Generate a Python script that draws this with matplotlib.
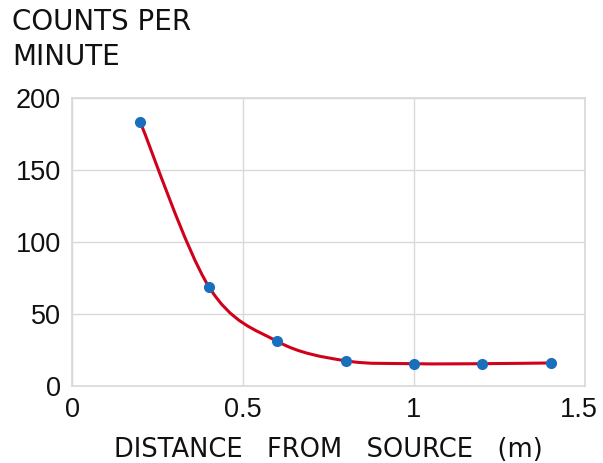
import numpy as np
import matplotlib.pyplot as plt
import matplotlib.transforms as mtransforms
from matplotlib.path import Path
from matplotlib.patches import PathPatch

# Data
distance = [0.2, 0.4, 0.6, 0.8, 1.0, 1.2, 1.4]   # m
counts = [183, 69, 31, 17.5, 15.5, 15.5, 16]      # counts per minute

x_ticks = [0, 0.5, 1, 1.5]
x_tick_labels = ['0', '0.5', '1', '1.5']
y_ticks = [0, 50, 100, 150, 200]
y_tick_labels = ['0', '50', '100', '150', '200']

plt.rcParams['font.family'] = ['DejaVu Sans']

fig = plt.figure(figsize=(6.03, 4.63), dpi=100)
ax = fig.add_axes([72 / 603, 1 - 386 / 463, 513 / 603, 288 / 463])

# smooth curve through the points (Catmull-Rom as cubic Bezier segments)
pts = np.column_stack([distance, counts])
verts = [tuple(pts[0])]
codes = [Path.MOVETO]
for i in range(len(pts) - 1):
    p0 = pts[i - 1] if i > 0 else pts[i]
    p1 = pts[i]
    p2 = pts[i + 1]
    p3 = pts[i + 2] if i + 2 < len(pts) else pts[i + 1]
    c1 = p1 + (p2 - p0) / 6
    c2 = p2 - (p3 - p1) / 6
    verts += [tuple(c1), tuple(c2), tuple(p2)]
    codes += [Path.CURVE4] * 3
curve = PathPatch(Path(verts, codes), facecolor='none', edgecolor='#d0021b',
                  lw=2.2, zorder=3)
ax.add_patch(curve)

ax.plot(distance, counts, 'o', color='#1a6fbd', markersize=7, zorder=4)

ax.set_xlim(0, 1.5)
ax.set_ylim(0, 200)
ax.set_xticks(x_ticks)
ax.set_xticklabels(x_tick_labels)
ax.set_yticks(y_ticks)
ax.set_yticklabels(y_tick_labels)
ax.tick_params(length=0, labelsize=19.5, colors='#111111', pad=8)
for lab in ax.get_xticklabels() + ax.get_yticklabels():
    lab.set_fontfamily('Liberation Sans')
# keep the last x label inside the figure
shift = mtransforms.ScaledTranslation(-6 / 100, 0, fig.dpi_scale_trans)
last = ax.get_xticklabels()[-1]
last.set_transform(last.get_transform() + shift)
ax.grid(True, color='#d9d9d9', lw=1)
ax.set_axisbelow(True)
for s in ax.spines.values():
    s.set_color('#d5d8dd')
    s.set_linewidth(1.2)

fig.text(12 / 603, 1 - 8 / 463, 'COUNTS PER\nMINUTE', ha='left', va='top',
         fontsize=20, color='#111111', linespacing=1.3)
ax.set_xlabel('DISTANCE   FROM   SOURCE   (m)', fontsize=18.5, color='#111111',
              labelpad=10)

plt.savefig('out.png', dpi=100)
